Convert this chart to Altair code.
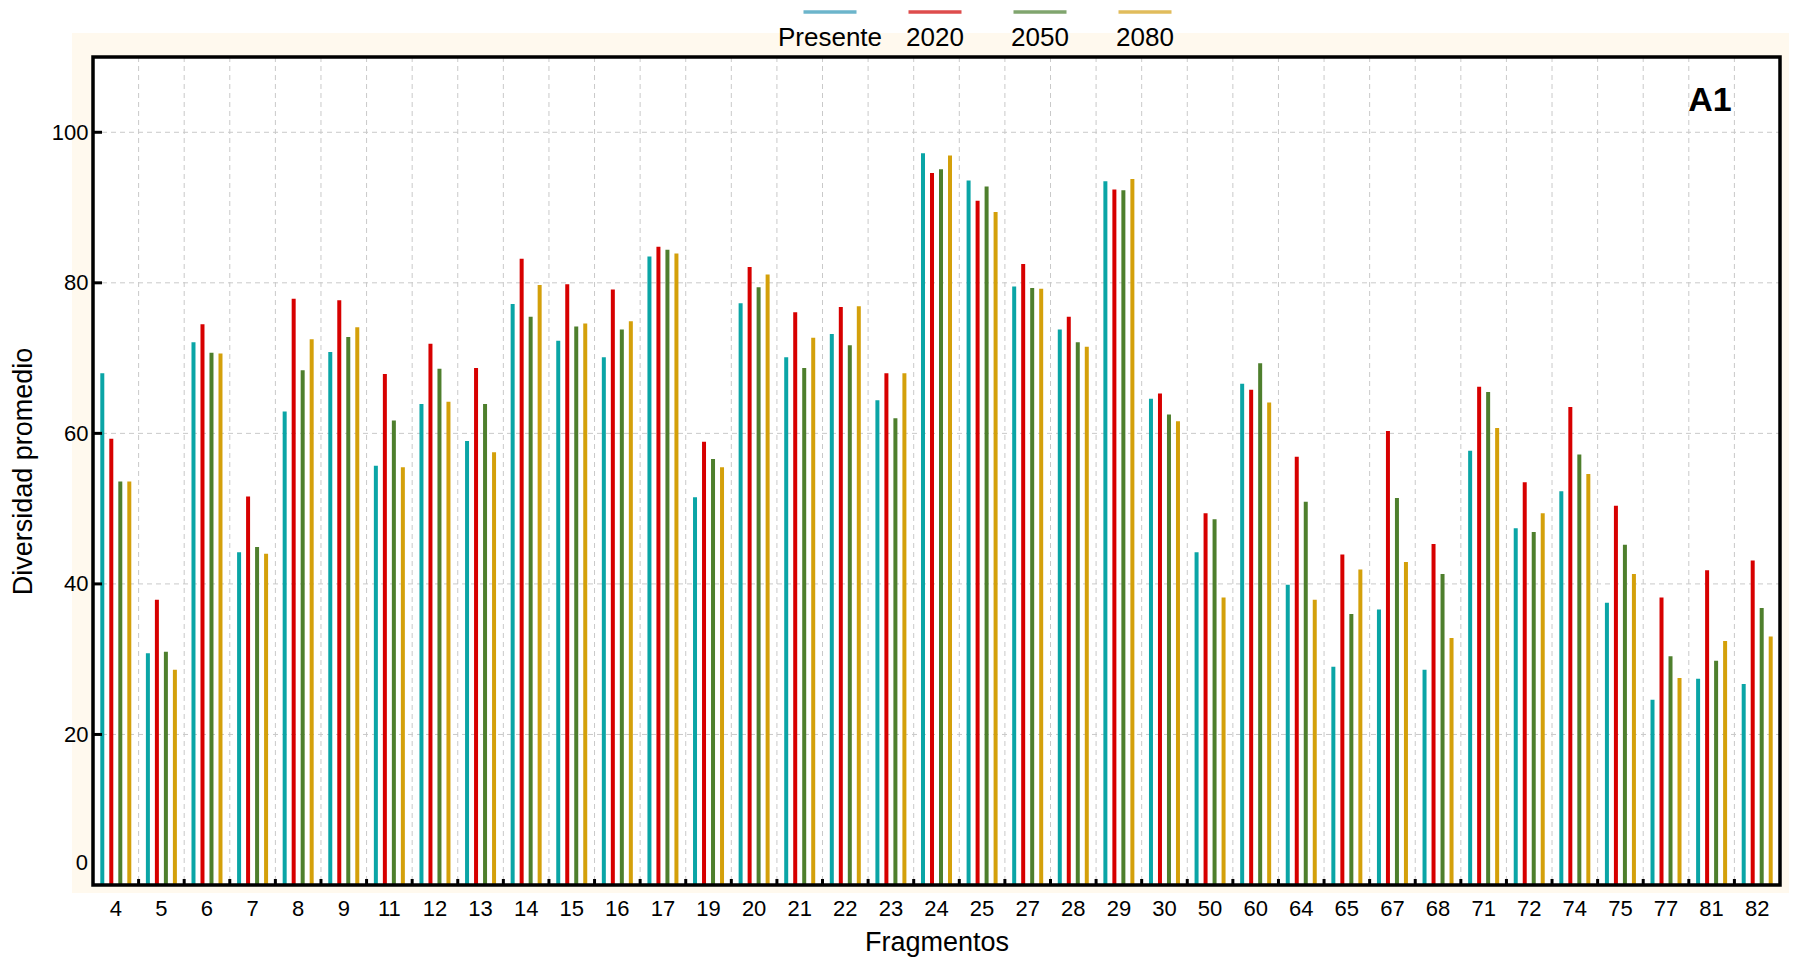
import altair as alt
import pandas as pd

# Fragment labels (x categories) and scenario names
fragmentos = ["4", "5", "6", "7", "8", "9", "11", "12", "13", "14", "15", "16", "17",
              "19", "20", "21", "22", "23", "24", "25", "27", "28", "29", "30", "50",
              "60", "64", "65", "67", "68", "71", "72", "74", "75", "77", "81", "82"]
series = ["Presente", "2020", "2050", "2080"]

# Mean diversity per fragment and scenario
presente = [68.0, 30.8, 72.1, 44.2, 62.9, 70.8, 55.7, 63.9, 59.0, 77.2, 72.3, 70.1, 83.5,
            51.5, 77.3, 70.1, 73.2, 64.4, 97.2, 93.6, 79.5, 73.8, 93.5, 64.6, 44.2,
            66.6, 39.9, 29.0, 36.6, 28.6, 57.7, 47.4, 52.3, 37.5, 24.6, 27.4, 26.7]
v2020 = [59.3, 37.9, 74.5, 51.6, 77.9, 77.7, 67.9, 71.9, 68.7, 83.2, 79.8, 79.1, 84.8,
         58.9, 82.1, 76.1, 76.8, 68.0, 94.6, 90.9, 82.5, 75.5, 92.4, 65.3, 49.4,
         65.8, 56.9, 43.9, 60.3, 45.3, 66.2, 53.5, 63.5, 50.4, 38.2, 41.8, 43.1]
v2050 = [53.6, 31.0, 70.7, 44.9, 68.4, 72.8, 61.7, 68.6, 63.9, 75.5, 74.2, 73.8, 84.4,
         56.6, 79.4, 68.7, 71.7, 62.0, 95.1, 92.8, 79.3, 72.1, 92.3, 62.5, 48.6,
         69.3, 50.9, 36.0, 51.4, 41.3, 65.5, 46.9, 57.2, 45.2, 30.4, 29.8, 36.8]
v2080 = [53.6, 28.6, 70.6, 44.0, 72.5, 74.1, 55.5, 64.2, 57.5, 79.7, 74.6, 74.9, 83.9,
         55.5, 81.1, 72.7, 76.9, 68.0, 96.9, 89.4, 79.2, 71.5, 93.8, 61.6, 38.2,
         64.1, 37.9, 41.9, 42.9, 32.8, 60.7, 49.4, 54.6, 41.3, 27.5, 32.4, 33.0]

y_labels = [20, 40, 60, 80, 100]
y_zero = [0]
y_grid = [20, 40, 60, 80, 100]

bar_colors = ["#0AA5A6", "#D70000", "#4E7F2D", "#D4A00A"]
legend_colors = ["#2E96B5", "#D00000", "#4A7F30", "#D4A017"]
CREAM = "#FFF9EE"
GRID = "#C9C9C9"
FONT = "Liberation Sans"

W, H = 1687, 828

rows = []
for i, frag in enumerate(fragmentos):
    for name, vals in zip(series, [presente, v2020, v2050, v2080]):
        rows.append({"frag": frag, "serie": name, "valor": vals[i]})
df = pd.DataFrame(rows)

one = pd.DataFrame({"k": [0]})


def frag_scale():
    return alt.Scale(type="band", domain=fragmentos, paddingInner=0, paddingOuter=0)


yscale = alt.Scale(domain=[0, 110], nice=False, zero=True)

# one y axis definition shared by every layer that uses the y scale
y_axis = alt.Axis(title="Diversidad promedio", values=y_labels, labelFontSize=22,
                  labelPadding=5, ticks=False, domain=False, grid=False,
                  titleFontSize=27, titleFontWeight="normal", titlePadding=14,
                  labelColor="black", titleColor="black", labelFont=FONT,
                  titleFont=FONT, zindex=1, orient="left")

# cream panel behind the frame, white plotting area on top of it
cream = alt.Chart(one).mark_rect(color=CREAM).encode(
    x=alt.value(-21), x2=alt.value(W + 9), y=alt.value(-24), y2=alt.value(H + 8))
white = alt.Chart(one).mark_rect(color="white").encode(
    x=alt.value(0), x2=alt.value(W), y=alt.value(0), y2=alt.value(H))

# dashed grid: horizontal at the y ticks, vertical between fragments
grid_h = alt.Chart(pd.DataFrame({"v": y_grid})).mark_rule(
    color=GRID, strokeDash=[5, 4], strokeWidth=1).encode(
    y=alt.Y("v:Q", scale=yscale, axis=y_axis), x=alt.value(0), x2=alt.value(W))
grid_v = alt.Chart(pd.DataFrame({"f": fragmentos[1:]})).mark_rule(
    color=GRID, strokeDash=[5, 4], strokeWidth=1).encode(
    x=alt.X("f:N", scale=frag_scale(), bandPosition=0, axis=None, sort=None),
    y=alt.value(0), y2=alt.value(H))

bars = alt.Chart(df).mark_bar(size=4).encode(
    x=alt.X("frag:N", scale=frag_scale(), sort=None,
            axis=alt.Axis(title="Fragmentos", labelAngle=0, labelFontSize=22,
                          labelPadding=13, ticks=False, domain=False, grid=False,
                          titleFontSize=27, titleFontWeight="normal", titlePadding=10,
                          labelColor="black", titleColor="black", labelFont=FONT,
                          titleFont=FONT, zindex=1, orient="bottom")),
    xOffset=alt.XOffset("serie:N", sort=series,
                        scale=alt.Scale(domain=series, paddingInner=0, paddingOuter=0.533)),
    y=alt.Y("valor:Q", scale=yscale, axis=y_axis),
    color=alt.Color("serie:N", scale=alt.Scale(domain=series, range=bar_colors), legend=None),
)

# the zero label sits a little above the bottom edge
zero_label = alt.Chart(pd.DataFrame({"v": y_zero})).mark_text(
    align="right", baseline="middle", dx=-5, dy=-22, fontSize=22, font=FONT,
    color="black").encode(
    y=alt.Y("v:Q", scale=yscale, axis=y_axis), x=alt.value(0), text="v:Q")

# inward tick marks on the frame
ticks_x = alt.Chart(pd.DataFrame({"f": fragmentos[1:]})).mark_rule(
    color="black", strokeWidth=3).encode(
    x=alt.X("f:N", scale=frag_scale(), bandPosition=0, axis=None, sort=None),
    y=alt.value(H - 6), y2=alt.value(H))
ticks_y = alt.Chart(pd.DataFrame({"v": y_grid})).mark_rule(
    color="black", strokeWidth=3).encode(
    y=alt.Y("v:Q", scale=yscale, axis=y_axis), x=alt.value(0), x2=alt.value(9))

# black frame round the plotting area
frame = alt.Chart(one).mark_rect(fill=None, stroke="black", strokeWidth=3.5).encode(
    x=alt.value(0), x2=alt.value(W), y=alt.value(0), y2=alt.value(H))

panel_label = alt.Chart(one).mark_text(
    fontSize=34, fontWeight="bold", font=FONT, color="black").encode(
    x=alt.value(W - 70), y=alt.value(44), text=alt.value("A1"))

# legend above the panel: line sample over each scenario name
leg_df = pd.DataFrame({"serie": series})
leg_x = alt.X("serie:N", sort=series, axis=None,
              scale=alt.Scale(type="point", domain=series, padding=0, range=[737, 1052]))
leg_lines = alt.Chart(leg_df).mark_tick(orient="horizontal", size=53, thickness=3.5).encode(
    x=leg_x, y=alt.value(-45),
    color=alt.Color("serie:N", scale=alt.Scale(domain=series, range=legend_colors), legend=None))
leg_text = alt.Chart(leg_df).mark_text(
    fontSize=26, font=FONT, color="black", baseline="middle", align="center").encode(
    x=leg_x, y=alt.value(-19), text="serie:N")

chart = alt.layer(
    cream, white, grid_h, grid_v, bars, zero_label, ticks_x, ticks_y, frame, panel_label,
    leg_lines, leg_text
).resolve_scale(
    x="independent", color="independent"
).properties(
    width=W, height=H,
    autosize=alt.AutoSizeParams(type="none"),
    padding={"left": 93, "top": 57, "right": 13, "bottom": 76},
    background="white",
).configure_view(
    stroke=None
).configure_text(font=FONT)

chart.save("out.html", embed_options={"renderer": "svg", "actions": False})
